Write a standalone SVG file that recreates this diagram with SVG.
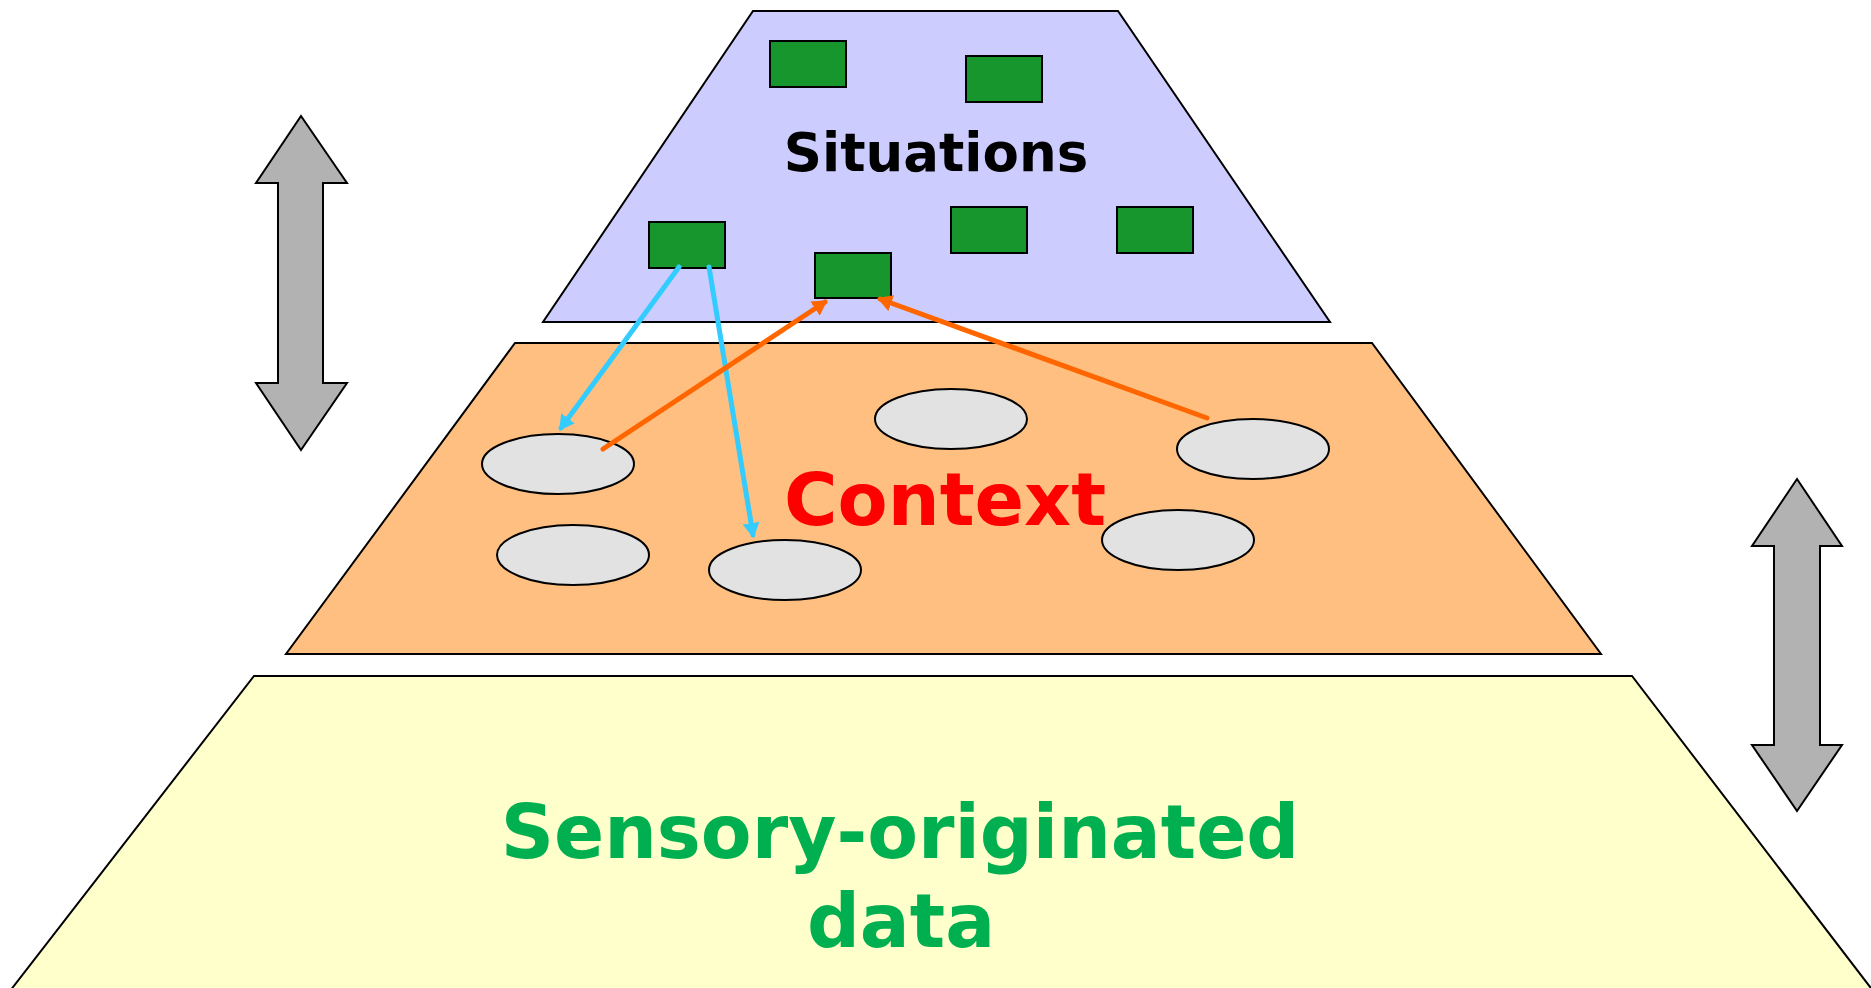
<svg xmlns="http://www.w3.org/2000/svg" width="1871" height="988" viewBox="0 0 1871 988">
  <style>
    .layer { stroke: #000; stroke-width: 2; stroke-linejoin: miter; }
    .sit { fill: #16962C; stroke: #000; stroke-width: 2; }
    .ctx { fill: #E2E2E2; stroke: #000; stroke-width: 2; }
    .updown { fill: #B2B2B2; stroke: #000; stroke-width: 2; }
    .label { font-family: "DejaVu Sans", Verdana, sans-serif; font-weight: bold; text-anchor: middle; }
    .link { fill: none; stroke-width: 5; stroke-linecap: round; }
  </style>
  <defs>
    <marker id="head-cyan" markerUnits="userSpaceOnUse" viewBox="0 0 15 17" refX="12" refY="8.5" markerWidth="15" markerHeight="17" orient="auto">
      <path d="M0,0 L15,8.5 L0,17 z" fill="#33CCFF"/>
    </marker>
    <marker id="head-orange" markerUnits="userSpaceOnUse" viewBox="0 0 15 17" refX="12" refY="8.5" markerWidth="15" markerHeight="17" orient="auto">
      <path d="M0,0 L15,8.5 L0,17 z" fill="#FF6600"/>
    </marker>
  </defs>

  <rect width="1871" height="988" fill="#FFFFFF"/>

  <!-- bottom layer: raw sensor data -->
  <g id="layer-sensory">
    <polygon class="layer" fill="#FFFFCC" points="254,676 1632,676 1880,1000 3,1000"/>
    <text class="label" x="900" y="858" font-size="74" fill="#00B050">Sensory-originated</text>
    <text class="label" x="901" y="947" font-size="74" fill="#00B050">data</text>
  </g>

  <!-- middle layer: context -->
  <g id="layer-context">
    <polygon class="layer" fill="#FFBF80" points="515,343 1372,343 1601,654 286,654"/>
    <text class="label" x="945" y="525" font-size="73" fill="#FF0000">Context</text>
  </g>

  <!-- top layer: situations -->
  <g id="layer-situations">
    <polygon class="layer" fill="#CCCCFF" points="753,11 1118,11 1330,322 543,322"/>
    <text class="label" x="936" y="171" font-size="53" fill="#000000">Situations</text>
  </g>

  <!-- situation nodes -->
  <g id="sit-1"><rect class="sit" x="770" y="41" width="76" height="46"/></g>
  <g id="sit-2"><rect class="sit" x="966" y="56" width="76" height="46"/></g>
  <g id="sit-3"><rect class="sit" x="649" y="222" width="76" height="46"/></g>
  <g id="sit-4"><rect class="sit" x="815" y="253" width="76" height="45"/></g>
  <g id="sit-5"><rect class="sit" x="951" y="207" width="76" height="46"/></g>
  <g id="sit-6"><rect class="sit" x="1117" y="207" width="76" height="46"/></g>

  <!-- context nodes -->
  <g id="ctx-1"><ellipse class="ctx" cx="558" cy="464" rx="76" ry="30"/></g>
  <g id="ctx-2"><ellipse class="ctx" cx="573" cy="555" rx="76" ry="30"/></g>
  <g id="ctx-3"><ellipse class="ctx" cx="785" cy="570" rx="76" ry="30"/></g>
  <g id="ctx-4"><ellipse class="ctx" cx="951" cy="419" rx="76" ry="30"/></g>
  <g id="ctx-5"><ellipse class="ctx" cx="1253" cy="449" rx="76" ry="30"/></g>
  <g id="ctx-6"><ellipse class="ctx" cx="1178" cy="540" rx="76" ry="30"/></g>

  <!-- two-way level arrows -->
  <g id="arrow-left">
    <polygon class="updown" points="301,116 347,183 323,183 323,383 347,383 301,450 256,383 278,383 278,183 256,183"/>
  </g>
  <g id="arrow-right">
    <polygon class="updown" points="1797,479 1842,546 1820,546 1820,745 1842,745 1797,811 1752,745 1774,745 1774,546 1752,546"/>
  </g>

  <!-- connectors between situations and context -->
  <g id="connectors">
    <path class="link" stroke="#33CCFF" d="M679,267 L561,428" marker-end="url(#head-cyan)"/>
    <path class="link" stroke="#33CCFF" d="M709,267 L753,535" marker-end="url(#head-cyan)"/>
    <path class="link" stroke="#FF6600" d="M603,449 L825,302" marker-end="url(#head-orange)"/>
    <path class="link" stroke="#FF6600" d="M1207,418 L880,299" marker-end="url(#head-orange)"/>
  </g>
</svg>
